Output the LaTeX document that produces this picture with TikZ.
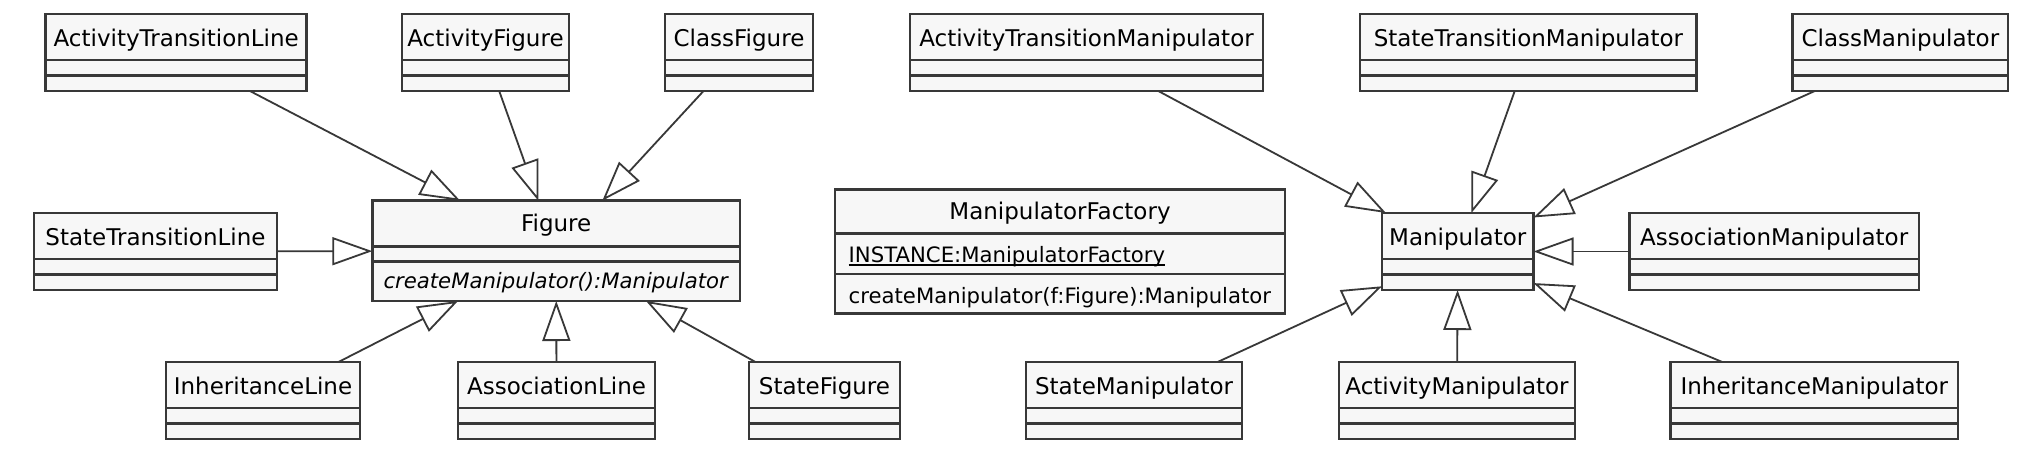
\documentclass[tikz,border=0pt]{standalone}
\usepackage{fontspec}
\setmainfont{DejaVu Sans}
\usepackage{tikz}
\usetikzlibrary{arrows.meta}
\definecolor{umlline}{HTML}{383838}
\definecolor{umlfill}{HTML}{F7F7F7}
\newcommand{\uattr}[1]{\setbox0=\hbox{#1}\rlap{\rule[-1.45pt]{\wd0}{0.6pt}}\box0}

\begin{document}
\begin{tikzpicture}[
  x=0.5pt, y=-0.5pt,
  umlclass/.style={rectangle, draw=umlline, fill=umlfill, line width=1.4pt,
    inner xsep=2pt, inner ysep=0pt, outer sep=0pt,
    text height=16pt, text depth=22.5pt, font=\fontsize{11.5}{13}\selectfont},
  member/.style={inner sep=0pt, font=\fontsize{10.6}{12}\selectfont},
  divider/.style={draw=umlline, line width=1.4pt},
  inherit/.style={-{Triangle[open, length=20pt, width=14pt]}, draw=umlline, line width=0.9pt}
]
  \fill[white] (0,0) rectangle (2033,456);
  \useasboundingbox (0,0) rectangle (2033,456);

  % top row
  \node[umlclass, minimum width=130.5pt] (atl) at (176.2,52.5) {ActivityTransitionLine};
  \node[umlclass, minimum width=83.5pt] (af) at (485.5,52.5) {ActivityFigure};
  \node[umlclass, minimum width=74pt] (cf) at (739,52.5) {ClassFigure};
  \node[umlclass, minimum width=176.5pt] (atm) at (1086.5,52.5) {ActivityTransitionManipulator};
  \node[umlclass, minimum width=168.35pt] (stm) at (1528.35,52.5) {StateTransitionManipulator};
  \node[umlclass, minimum width=107.65pt] (cm) at (1900.35,52.5) {ClassManipulator};

  % middle row
  \node[umlclass, minimum width=121.5pt] (stl) at (155.5,251.5) {StateTransitionLine};
  \node[umlclass, minimum width=183.85pt, text height=15.5pt, text depth=34.65pt] (fig) at (556.15,250.85) {Figure};
  \node[member, anchor=base] (figop) at ([yshift=-43.8pt]fig.north) {\textit{createManipulator():Manipulator}};
  \node[umlclass, minimum width=225pt, text height=15pt, text depth=47pt] (mf) at (1060,251.3) {ManipulatorFactory};
  \node[member, anchor=base west] (mfattr) at ([xshift=6.65pt, yshift=-36.7pt]mf.north west) {\uattr{INSTANCE:ManipulatorFactory}};
  \node[member, anchor=base west] (mfop) at ([xshift=6.65pt, yshift=-57pt]mf.north west) {createManipulator(f:Figure):Manipulator};
  \node[umlclass, minimum width=75.75pt] (man) at (1457.75,251.5) {Manipulator};
  \node[umlclass, minimum width=144.85pt] (am) at (1774.15,251.5) {AssociationManipulator};

  % bottom row
  \node[umlclass, minimum width=97pt] (il) at (263,400.5) {InheritanceLine};
  \node[umlclass, minimum width=98.5pt] (al) at (556.5,400.5) {AssociationLine};
  \node[umlclass, minimum width=75.5pt] (sf) at (824.5,400.5) {StateFigure};
  \node[umlclass, minimum width=108pt] (sm) at (1134,400.5) {StateManipulator};
  \node[umlclass, minimum width=118pt] (acm) at (1457,400.5) {ActivityManipulator};
  \node[umlclass, minimum width=143.65pt] (im) at (1814.35,400.5) {InheritanceManipulator};

  % compartments
  \foreach \c in {atl,af,cf,atm,stm,cm,stl,man,am,il,al,sf,sm,acm,im} {
    \draw[divider] ([yshift=-23pt]\c.north west) -- ([yshift=-23pt]\c.north east);
    \draw[divider] ([yshift=-30.85pt]\c.north west) -- ([yshift=-30.85pt]\c.north east);
  }
  \draw[divider] ([yshift=-23pt]fig.north west) -- ([yshift=-23pt]fig.north east);
  \draw[divider] ([yshift=-30.3pt]fig.north west) -- ([yshift=-30.3pt]fig.north east);
  \draw[divider] ([yshift=-22pt]mf.north west) -- ([yshift=-22pt]mf.north east);
  \draw[divider] ([yshift=-42.35pt]mf.north west) -- ([yshift=-42.35pt]mf.north east);

  % generalisations
  \draw[inherit] (atl) -- (fig);
  \draw[inherit] (af) -- (fig);
  \draw[inherit] (cf) -- (fig);
  \draw[inherit] (stl) -- (fig);
  \draw[inherit] (il) -- (fig);
  \draw[inherit] (al) -- (fig);
  \draw[inherit] (sf) -- (fig);
  \draw[inherit] (atm) -- (man);
  \draw[inherit] (stm) -- (man);
  \draw[inherit] (cm) -- (man);
  \draw[inherit] (am) -- (man);
  \draw[inherit] (sm) -- (man);
  \draw[inherit] (acm) -- (man);
  \draw[inherit] (im) -- (man);
\end{tikzpicture}
\end{document}
